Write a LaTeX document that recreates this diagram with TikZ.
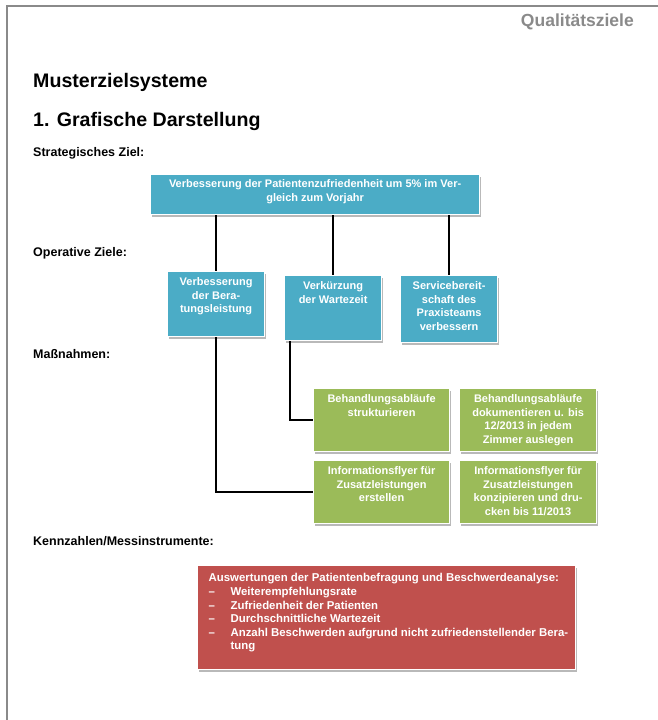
\documentclass[tikz,border=0pt]{standalone}
\usepackage{fontspec}
\setmainfont{Liberation Sans}
\usetikzlibrary{shadows}

\definecolor{zielblau}{HTML}{4BACC6}
\definecolor{zielgruen}{HTML}{9BBB59}
\definecolor{zielrot}{HTML}{C0504D}
\definecolor{rahmengrau}{HTML}{8A8A8A}

\tikzset{
  kasten/.style={draw=white, line width=1.2pt, text=white, inner sep=0pt, anchor=north west,
    drop shadow={shadow xshift=1.2pt, shadow yshift=-2pt, fill=gray!55, opacity=1},
    font=\bfseries\fontsize{11}{13.5}\selectfont},
  ueberschrift/.style={anchor=base west, inner sep=0pt, font=\bfseries\fontsize{19.6}{23}\selectfont},
  ebene/.style={anchor=base west, inner sep=0pt, font=\bfseries\fontsize{12.5}{14}\selectfont},
  linie/.style={line width=2pt, black}
}
\newcommand{\kastentext}[3]{\parbox[c][#2pt][t]{#1pt}{\centering\vspace*{6pt}#3}}

\begin{document}
\begin{tikzpicture}[x=1pt,y=-1pt]
	\useasboundingbox (0,0) rectangle (658,720);
	
    % Seitenrand
    \draw[rahmengrau, line width=2pt] (7,720) -- (7,6) -- (658,6);
    
    % Ueberschriften
    \node[anchor=base east, inner sep=0pt, text=rahmengrau, font=\bfseries\fontsize{17.5}{20}\selectfont] (kopf) at (634,26) {Qualitätsziele};
    \node[ueberschrift] (titel) at (33,87) {Musterzielsysteme};
    \node[ueberschrift] (abschnitt) at (33,126) {1. Grafische Darstellung};
    \node[ebene] (lstrat) at (33,156) {Strategisches Ziel:};
    \node[ebene] (lop) at (33,256) {Operative Ziele:};
    \node[ebene] (lmass) at (33,358) {Maßnahmen:};
    \node[ebene] (lkenn) at (33,545) {Kennzahlen/Messinstrumente:};
    
    % strategisches Ziel
    \node[kasten, fill=zielblau] (strat) at (150,174) {\kastentext{329}{40}{\vspace*{-1pt}Verbesserung der Patientenzufriedenheit um 5\% im Ver-\\gleich zum Vorjahr}};
    
    % operative Ziele
    \node[kasten, fill=zielblau] (op1) at (167,271) {\kastentext{97}{65}{Verbesserung\\der Bera-\\tungsleistung}};
    \node[kasten, fill=zielblau] (op2) at (284,275) {\kastentext{97}{65}{Verkürzung\\der Wartezeit}};
    \node[kasten, fill=zielblau] (op3) at (400,275) {\kastentext{97}{67}{Servicebereit-\\schaft des\\Praxisteams\\verbessern}};
    
    % Massnahmen
    \node[kasten, fill=zielgruen] (massA) at (313,388) {\kastentext{136}{63}{Behandlungsabläufe\\strukturieren}};
    \node[kasten, fill=zielgruen] (massB) at (459,388) {\kastentext{137}{63}{Behandlungsabläufe\\dokumentieren u. bis\\12/2013 in jedem\\Zimmer auslegen}};
    \node[kasten, fill=zielgruen] (massC) at (313,460) {\kastentext{136}{63}{Informationsflyer für\\Zusatzleistungen\\erstellen}};
    \node[kasten, fill=zielgruen] (massD) at (459,460) {\kastentext{137}{63}{Informationsflyer für\\Zusatzleistungen\\konzipieren und dru-\\cken bis 11/2013}};
    
    % Kennzahlen
    \node[kasten, fill=zielrot, font=\bfseries\fontsize{11.4}{13.6}\selectfont] (kenn) at (197,565) {\parbox[c][104pt][t]{378pt}{\raggedright\vspace*{8pt}\hspace*{11pt}Auswertungen der Patientenbefragung und Beschwerdeanalyse:\\
      \hspace*{11pt}\makebox[22pt][l]{--}Weiterempfehlungsrate\\
      \hspace*{11pt}\makebox[22pt][l]{--}Zufriedenheit der Patienten\\
      \hspace*{11pt}\makebox[22pt][l]{--}Durchschnittliche Wartezeit\\
      \hspace*{11pt}\makebox[22pt][l]{--}Anzahl Beschwerden aufgrund nicht zufriedenstellender Bera-\\
      \hspace*{33pt}tung}};
    
    % Verbindungen
    \draw[linie] (strat.south -| op1.north) -- (op1.north);
    \draw[linie] (strat.south -| op2.north) -- (op2.north);
    \draw[linie] (strat.south -| op3.north) -- (op3.north);
    \draw[linie] (op1.south) |- (massC.west);
    \draw[linie] ([xshift=6pt]op2.south west) |- (massA.west);
    
\end{tikzpicture}
\end{document}
